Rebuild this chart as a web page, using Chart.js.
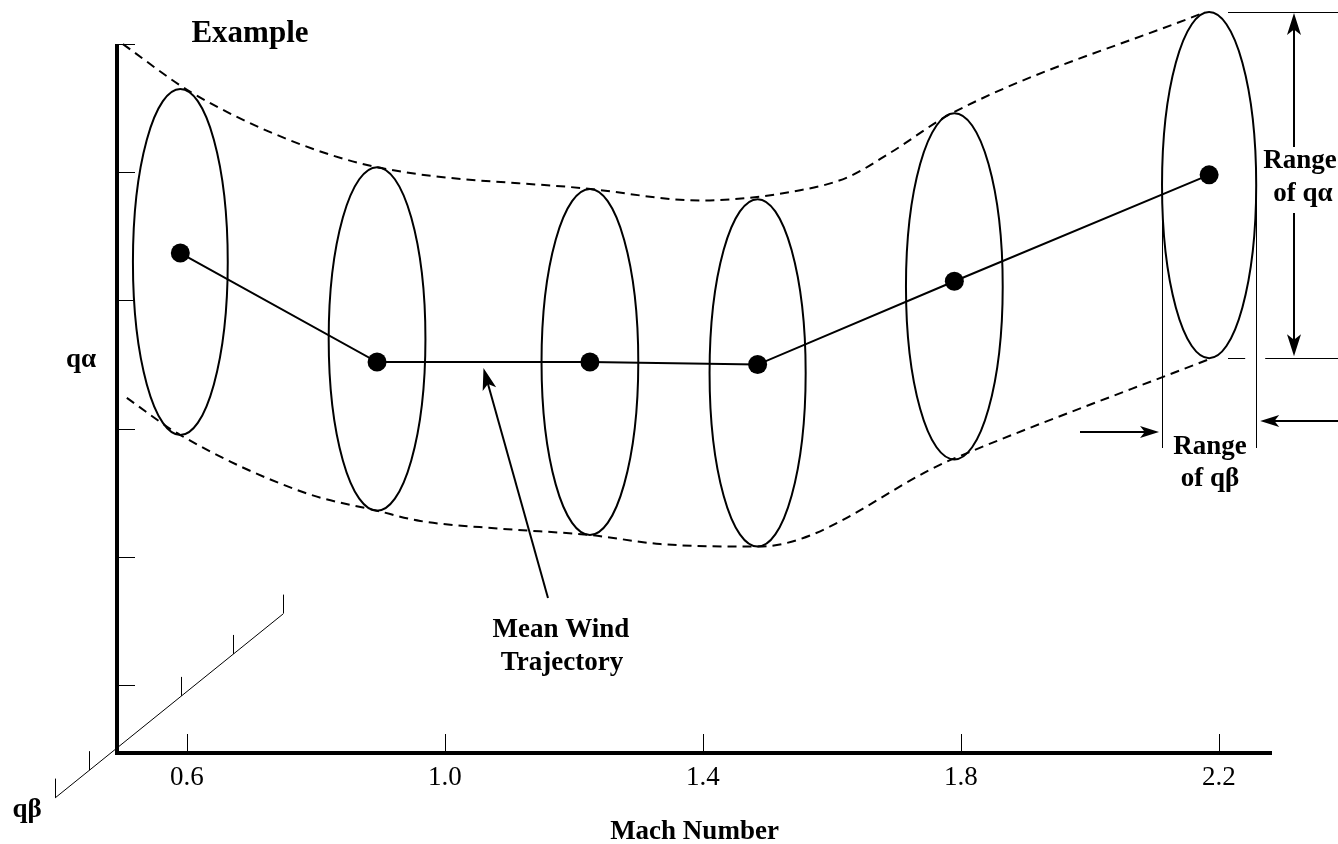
<!DOCTYPE html>
<html>
<head>
<meta charset="utf-8">
<title>Mean Wind Trajectory</title>
<script src="https://cdn.jsdelivr.net/npm/chart.js@4.4.1/dist/chart.umd.min.js"></script>
<style>
  html, body { margin: 0; padding: 0; background: #fff; }
  #wrap { width: 1338px; height: 844px; }
</style>
</head>
<body>
<div id="wrap"><canvas id="windchart" width="1338" height="844"></canvas></div>
<script>
// tick values
const machTicks = [0.6, 1.0, 1.4, 1.8, 2.2];
const alphaTicks = [1, 2, 3, 4, 5, 6];

// mean wind trajectory (Mach number vs q-alpha)
const mach = [0.59, 0.895, 1.225, 1.485, 1.79, 2.185];
const alphaMean = [4.37, 3.52, 3.52, 3.50, 4.15, 4.98];

// dispersion ellipses: range of q-alpha and range of q-beta at each point
const alphaHigh = [5.65, 5.04, 4.87, 4.79, 5.46, 6.25];
const alphaLow = [2.95, 2.36, 2.17, 2.08, 2.76, 3.55];
const betaWidth = [0.147, 0.150, 0.150, 0.149, 0.150, 0.146];

// dashed envelopes
const upperMach = [0.501, 0.605, 0.755, 0.895, 1.226, 1.396, 1.551, 1.624, 1.69, 1.786, 2.179];
const upperAlpha = [6.0, 5.63, 5.26, 5.04, 4.87, 4.78, 4.86, 4.96, 5.15, 5.46, 6.25];
const lowerMach = [0.507, 0.59, 0.783, 0.895, 0.962, 1.086, 1.226, 1.334, 1.486, 1.786, 2.189];
const lowerAlpha = [3.24, 2.95, 2.50, 2.36, 2.28, 2.22, 2.17, 2.10, 2.08, 2.76, 3.55];

const serif = '"Liberation Serif", "Times New Roman", serif';

function toPoints(xs, ys) {
    return xs.map((v, i) => ({ x: v, y: ys[i] }));
}

function arrow(ctx, x1, y1, x2, y2, len, half) {
    const a = Math.atan2(y2 - y1, x2 - x1);
    const c = Math.cos(a), s = Math.sin(a);
    ctx.beginPath();
    ctx.moveTo(x1, y1);
    ctx.lineTo(x2 - c * len * 0.7, y2 - s * len * 0.7);
    ctx.stroke();
    const bx = x2 - c * len, by = y2 - s * len;
    ctx.beginPath();
    ctx.moveTo(x2, y2);
    ctx.lineTo(bx + s * half, by - c * half);
    ctx.lineTo(x2 - c * len * 0.75, y2 - s * len * 0.75);
    ctx.lineTo(bx - s * half, by + c * half);
    ctx.closePath();
    ctx.fill();
}

function label(ctx, text, x, y, size, bold) {
    ctx.font = (bold ? 'bold ' : '') + size + 'px ' + serif;
    ctx.fillText(text, x, y);
}

const ellipsePlugin = {
    id: 'ellipses',
    beforeDatasetsDraw(chart) {
        const { ctx, scales: { x, y } } = chart;
        ctx.save();
        ctx.strokeStyle = '#000';
        ctx.lineWidth = 2;
        mach.forEach((m, i) => {
            const cx = x.getPixelForValue(m);
            const top = y.getPixelForValue(alphaHigh[i]);
            const bot = y.getPixelForValue(alphaLow[i]);
            const rx = (x.getPixelForValue(m + betaWidth[i] / 2) - x.getPixelForValue(m - betaWidth[i] / 2)) / 2;
            ctx.beginPath();
            ctx.ellipse(cx, (top + bot) / 2, rx, (bot - top) / 2, 0, 0, Math.PI * 2);
            ctx.stroke();
        });
        ctx.restore();
    }
};

const framePlugin = {
    id: 'frame',
    afterDatasetsDraw(chart) {
        const { ctx, chartArea: area, scales: { x, y } } = chart;
        const left = area.left, bottom = area.bottom;
        ctx.save();
        ctx.strokeStyle = '#000';
        ctx.fillStyle = '#000';

        // axis lines
        ctx.lineWidth = 4;
        ctx.beginPath();
        ctx.moveTo(left, y.getPixelForValue(alphaTicks[alphaTicks.length - 1]));
        ctx.lineTo(left, bottom + 2);
        ctx.moveTo(left - 2, bottom);
        ctx.lineTo(area.right, bottom);
        ctx.stroke();

        // tick marks pointing inwards
        ctx.lineWidth = 1;
        ctx.beginPath();
        machTicks.forEach(v => {
            const px = Math.round(x.getPixelForValue(v)) + 0.5;
            ctx.moveTo(px, bottom - 2);
            ctx.lineTo(px, bottom - 19);
        });
        alphaTicks.forEach(v => {
            const py = Math.round(y.getPixelForValue(v)) + 0.5;
            ctx.moveTo(left + 2, py);
            ctx.lineTo(left + 18, py);
        });
        ctx.stroke();

        // q-beta depth axis
        const x0 = left - 62, y0 = bottom + 45, x1 = left + 166, y1 = bottom - 139;
        const slope = (y1 - y0) / (x1 - x0);
        ctx.beginPath();
        ctx.moveTo(x0, y0);
        ctx.lineTo(x1, y1);
        [-62, -28, 64, 116, 166].forEach(dx => {
            const tx = left + dx + 0.5;
            const ty = y0 + slope * (tx - x0);
            ctx.moveTo(tx, ty);
            ctx.lineTo(tx, ty - 19);
        });
        ctx.stroke();

        // range of q-alpha (last ellipse)
        const last = mach.length - 1;
        const eTop = y.getPixelForValue(alphaHigh[last]);
        const eBot = y.getPixelForValue(alphaLow[last]);
        const eMid = (eTop + eBot) / 2;
        const eL = x.getPixelForValue(mach[last] - betaWidth[last] / 2);
        const eR = x.getPixelForValue(mach[last] + betaWidth[last] / 2);
        const W = chart.width;
        ctx.beginPath();
        ctx.moveTo(1228, Math.round(eTop) + 0.5);
        ctx.lineTo(W, Math.round(eTop) + 0.5);
        ctx.moveTo(1228, Math.round(eBot) + 0.5);
        ctx.lineTo(eR - 11, Math.round(eBot) + 0.5);
        ctx.moveTo(eR + 9, Math.round(eBot) + 0.5);
        ctx.lineTo(W, Math.round(eBot) + 0.5);
        // range of q-beta guides
        ctx.moveTo(Math.round(eL) + 0.5, eMid);
        ctx.lineTo(Math.round(eL) + 0.5, 448);
        ctx.moveTo(Math.round(eR) + 0.5, eMid);
        ctx.lineTo(Math.round(eR) + 0.5, 448);
        ctx.stroke();

        ctx.lineWidth = 2;
        const ax = 1294;
        arrow(ctx, ax, 147, ax, eTop + 1, 22, 7);
        arrow(ctx, ax, 213, ax, eBot - 2, 22, 7);
        arrow(ctx, 1080, 432, eL - 3, 432, 19, 6);
        arrow(ctx, W, 421, eR + 4, 421, 19, 6);

        // mean wind trajectory pointer
        arrow(ctx, 548, 598, x.getPixelForValue(1.06), y.getPixelForValue(alphaMean[1]) + 6, 22, 7);

        // texts
        ctx.textAlign = 'center';
        ctx.textBaseline = 'alphabetic';
        label(ctx, 'Example', 250, 42, 31, true);
        label(ctx, 'q\u03b1', 81, 367, 27, true);
        label(ctx, 'q\u03b2', 27, 817, 27, true);
        label(ctx, 'Mean Wind', 561, 637, 27, true);
        label(ctx, 'Trajectory', 562, 670, 27, true);
        label(ctx, 'Range', 1300, 168, 27, true);
        label(ctx, 'of q\u03b1', 1303, 201, 27, true);
        label(ctx, 'Range', 1210, 454, 27, true);
        label(ctx, 'of q\u03b2', 1210, 486, 27, true);
        ctx.restore();
    }
};

const ctxchart = document.getElementById('windchart').getContext('2d');
const windChart = new Chart(ctxchart, {
    type: 'line',
    data: {
        datasets: [{
            label: 'Mean Wind Trajectory',
            data: toPoints(mach, alphaMean),
            borderColor: '#000',
            borderWidth: 2,
            pointRadius: 9.5,
            pointBackgroundColor: '#000',
            pointBorderWidth: 0,
            tension: 0,
            clip: false
        }, {
            label: 'Upper envelope',
            data: toPoints(upperMach, upperAlpha),
            borderColor: '#000',
            borderWidth: 2,
            borderDash: [9, 6],
            pointRadius: 0,
            cubicInterpolationMode: 'monotone',
            clip: false
        }, {
            label: 'Lower envelope',
            data: toPoints(lowerMach, lowerAlpha),
            borderColor: '#000',
            borderWidth: 2,
            borderDash: [9, 6],
            pointRadius: 0,
            cubicInterpolationMode: 'monotone',
            clip: false
        }]
    },
    options: {
        responsive: false,
        animation: false,
        layout: { padding: { left: 117, right: 66, top: 8, bottom: 0 } },
        plugins: {
            legend: { display: false },
            tooltip: { enabled: false }
        },
        scales: {
            x: {
                type: 'linear',
                min: 0.4918,
                max: 2.2825,
                afterBuildTicks: scale => {
                    scale.ticks = machTicks.map(v => ({ value: v }));
                },
                afterFit: scale => {
                    scale.height = 91;
                },
                grid: { display: false },
                border: { display: false },
                ticks: {
                    padding: 1,
                    color: '#000',
                    font: { family: serif, size: 27 },
                    callback: v => v.toFixed(1)
                },
                title: {
                    display: true,
                    text: 'Mach Number',
                    color: '#000',
                    font: { family: serif, size: 27, weight: 'bold', lineHeight: 1 },
                    padding: { top: 0, bottom: -2 }
                }
            },
            y: {
                type: 'linear',
                display: false,
                min: 0.47,
                max: 6.27
            }
        }
    },
    plugins: [ellipsePlugin, framePlugin]
});
</script>
</body>
</html>
